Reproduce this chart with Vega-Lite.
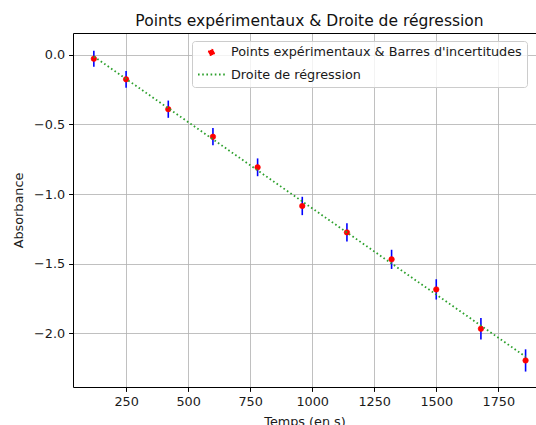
{
  "$schema": "https://vega.github.io/schema/vega-lite/v6.json",
  "width": 463,
  "height": 354,
  "autosize": {"type": "none"},
  "padding": {"left": 73, "top": 33, "right": 0, "bottom": 38},
  "background": "white",
  "config": {
    "font": "DejaVu Sans",
    "view": {"stroke": null},
    "axis": {
      "domainColor": "#000000",
      "domainWidth": 1,
      "tickColor": "#000000",
      "tickWidth": 1,
      "tickSize": 4.4,
      "labelPadding": 4,
      "labelFont": "DejaVu Sans",
      "labelFontSize": 12.8,
      "labelColor": "#1a1a1a",
      "titleFont": "DejaVu Sans",
      "titleFontSize": 12.8,
      "titleFontWeight": "normal",
      "titleColor": "#1a1a1a",
      "gridColor": "#b0b0b0",
      "gridWidth": 1,
      "gridOpacity": 0.8
    }
  },
  "title": {
    "text": "Points expérimentaux & Droite de régression",
    "font": "DejaVu Sans",
    "fontSize": 15.5,
    "fontWeight": "normal",
    "color": "#111111",
    "anchor": "middle",
    "baseline": "alphabetic",
    "offset": -8,
    "dx": 5
  },
  "datasets": {
    "points": [
      {"t": 120, "a": -0.027, "err": 0.058, "serie": "Points expérimentaux & Barres d'incertitudes"},
      {"t": 250, "a": -0.175, "err": 0.060, "serie": "Points expérimentaux & Barres d'incertitudes"},
      {"t": 420, "a": -0.390, "err": 0.062, "serie": "Points expérimentaux & Barres d'incertitudes"},
      {"t": 600, "a": -0.588, "err": 0.062, "serie": "Points expérimentaux & Barres d'incertitudes"},
      {"t": 780, "a": -0.808, "err": 0.064, "serie": "Points expérimentaux & Barres d'incertitudes"},
      {"t": 960, "a": -1.086, "err": 0.066, "serie": "Points expérimentaux & Barres d'incertitudes"},
      {"t": 1140, "a": -1.276, "err": 0.066, "serie": "Points expérimentaux & Barres d'incertitudes"},
      {"t": 1320, "a": -1.470, "err": 0.069, "serie": "Points expérimentaux & Barres d'incertitudes"},
      {"t": 1500, "a": -1.686, "err": 0.073, "serie": "Points expérimentaux & Barres d'incertitudes"},
      {"t": 1680, "a": -1.969, "err": 0.077, "serie": "Points expérimentaux & Barres d'incertitudes"},
      {"t": 1860, "a": -2.197, "err": 0.080, "serie": "Points expérimentaux & Barres d'incertitudes"}
    ],
    "fit": [
      {"t": 120, "a": -0.011},
      {"t": 1860, "a": -2.170}
    ]
  },
  "resolve": {"axis": {"x": "independent"}},
  "layer": [
    {
      "data": {"name": "points"},
      "mark": {"type": "errorbar", "color": "#0000ff", "thickness": 1.6},
      "encoding": {
        "x": {
          "field": "t", "type": "quantitative",
          "scale": {"domain": [36, 1902], "nice": false, "zero": false},
          "axis": {"orient": "bottom", "title": "Temps (en s)", "values": [250, 500, 750, 1000, 1250, 1500, 1750], "format": "d", "grid": true, "titlePadding": 7}
        },
        "y": {
          "field": "a", "type": "quantitative",
          "scale": {"domain": [-2.388, 0.158], "nice": false, "zero": false},
          "axis": {"title": "Absorbance", "values": [0, -0.5, -1, -1.5, -2], "format": ".1f", "grid": true, "titlePadding": 8}
        },
        "yError": {"field": "err"}
      }
    },
    {
      "data": {"name": "points"},
      "mark": {"type": "point", "filled": false, "fill": "#ff0000", "fillOpacity": 1, "strokeWidth": 0.6, "opacity": 1},
      "encoding": {
        "x": {"field": "t", "type": "quantitative", "axis": null},
        "y": {"field": "a", "type": "quantitative"},
        "color": {
          "field": "serie", "type": "nominal",
          "scale": {
            "domain": ["Points expérimentaux & Barres d'incertitudes", "Droite de régression"],
            "range": ["#ff0000", "#2ca02c"]
          },
          "legend": {
            "title": null,
            "orient": "none",
            "legendX": 119,
            "legendY": 8,
            "padding": 5,
            "fillColor": "rgba(255,255,255,0.8)",
            "strokeColor": "#cccccc",
            "cornerRadius": 3,
            "labelFont": "DejaVu Sans",
            "labelFontSize": 12.8,
            "labelColor": "#1a1a1a",
            "labelLimit": 500,
            "labelOffset": 5,
            "symbolStrokeWidth": 1.8,
            "symbolDash": [1.6, 2.6],
            "symbolFillColor": "#ff0000",
            "rowPadding": -1.4
          }
        },
        "shape": {
          "field": "serie", "type": "nominal",
          "scale": {
            "domain": ["Points expérimentaux & Barres d'incertitudes", "Droite de régression"],
            "range": ["circle", "stroke"]
          }
        },
        "size": {
          "field": "serie", "type": "nominal",
          "scale": {
            "type": "ordinal",
            "domain": ["Points expérimentaux & Barres d'incertitudes", "Droite de régression"],
            "range": [30, 729]
          }
        }
      }
    },
    {
      "data": {"name": "fit"},
      "mark": {"type": "line", "color": "#2ca02c", "strokeDash": [1.6, 2.6], "strokeWidth": 1.8, "strokeCap": "butt"},
      "encoding": {
        "x": {
          "field": "t", "type": "quantitative",
          "axis": {"orient": "top", "title": null, "labels": false, "ticks": false, "grid": false, "domain": true, "minExtent": 0, "maxExtent": 0, "offset": 0}
        },
        "y": {"field": "a", "type": "quantitative"}
      }
    }
  ]
}
